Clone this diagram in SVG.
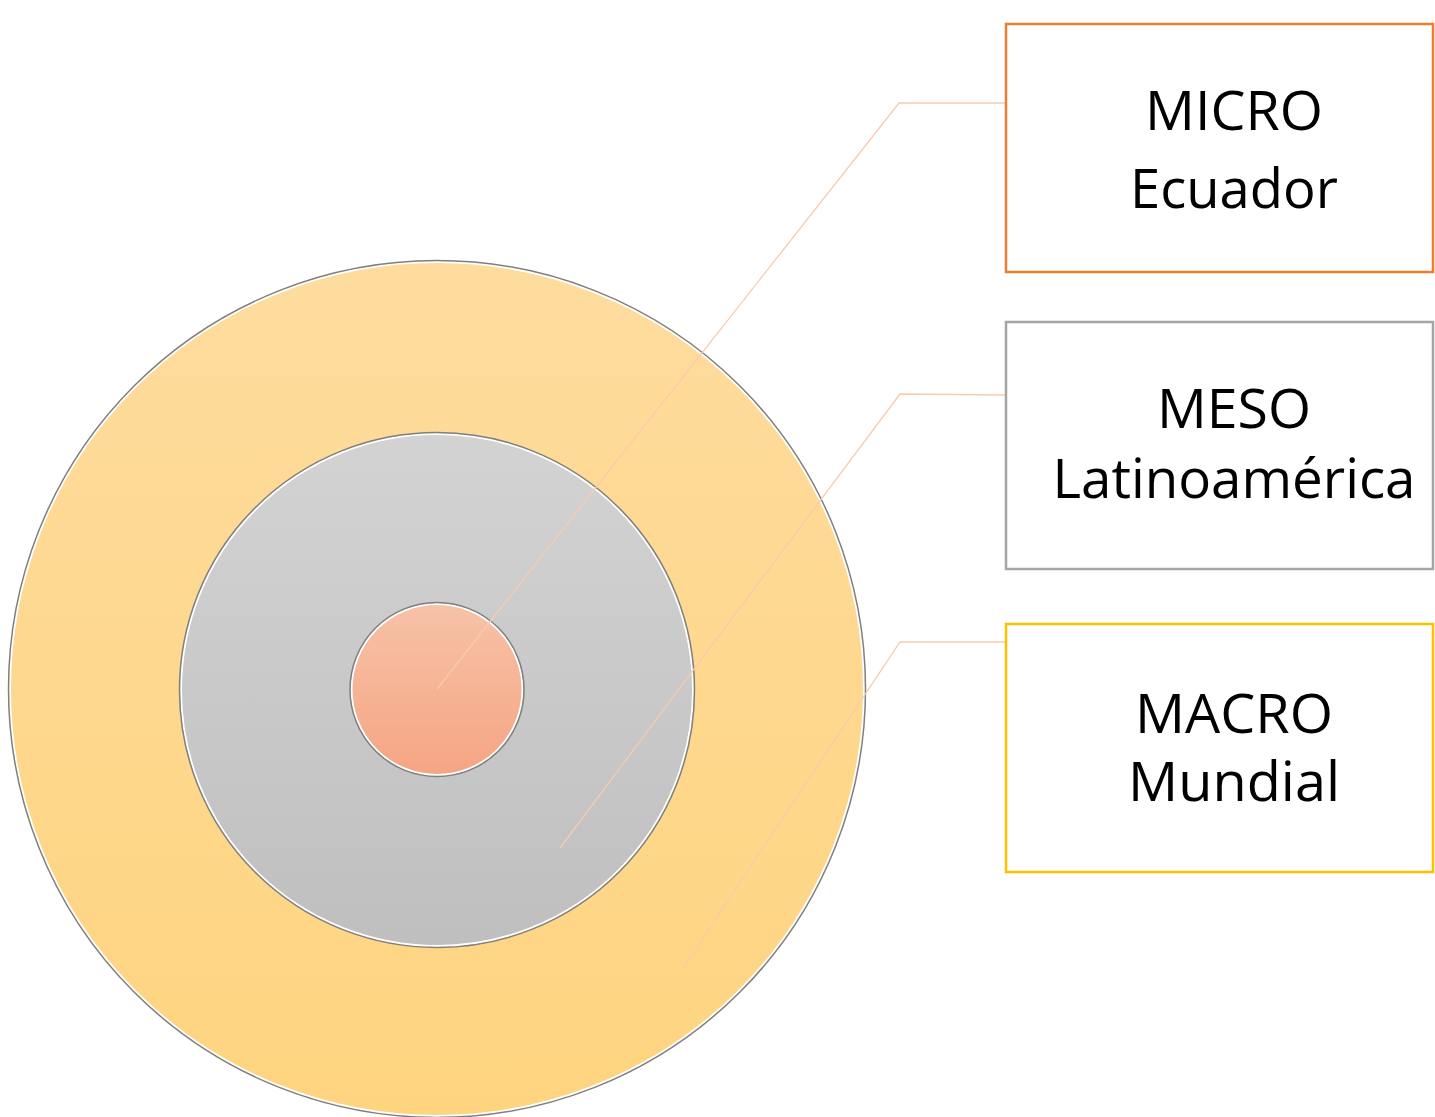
<svg xmlns="http://www.w3.org/2000/svg" width="1435" height="1117" viewBox="0 0 1435 1117">
<defs>
<linearGradient id="gOuter" x1="0" y1="0" x2="0" y2="1"><stop offset="0" stop-color="#fedc9e"/><stop offset="1" stop-color="#fed47f"/></linearGradient>
<linearGradient id="gMid" x1="0" y1="0" x2="0" y2="1"><stop offset="0" stop-color="#d3d3d3"/><stop offset="1" stop-color="#bfbfbf"/></linearGradient>
<linearGradient id="gInner" x1="0" y1="0" x2="0" y2="1"><stop offset="0" stop-color="#f7c2a7"/><stop offset="1" stop-color="#f5a583"/></linearGradient>
<style>
.ring{stroke:#ffffff;stroke-width:2}
.rim{fill:none;stroke:#7f7f7f;stroke-width:1.5}
.box{fill:#ffffff;stroke-width:2.5}
.conn{fill:none;stroke:#f8cbad;stroke-width:1.3}
.lbl{font-family:"Open Sans","Liberation Sans",sans-serif;font-size:55px;fill:#000000;text-anchor:middle}
</style>
</defs>
<rect width="1435" height="1117" fill="#ffffff"/>
<g id="macro-circle">
<circle cx="437" cy="689" r="427" fill="url(#gOuter)" class="ring"/>
<circle cx="437" cy="689" r="428.5" class="rim"/>
</g>
<g id="meso-circle">
<circle cx="437" cy="690" r="256" fill="url(#gMid)" class="ring"/>
<circle cx="437" cy="690" r="257.5" class="rim"/>
</g>
<g id="micro-circle">
<circle cx="437" cy="689.5" r="85.5" fill="url(#gInner)" class="ring"/>
<circle cx="437" cy="689.5" r="87" class="rim"/>
</g>
<g id="connectors">
<polyline class="conn" points="437,689 899,103 1005,103"/>
<polyline class="conn" points="560,848 900,394 1005,395"/>
<polyline class="conn" points="683,968 900,642 1005,642"/>
</g>
<g id="micro-box">
<rect class="box" x="1006" y="24" width="427" height="248" stroke="#ed7d31"/>
<text class="lbl" x="1234" y="130" textLength="178" lengthAdjust="spacingAndGlyphs">MICRO</text>
<text class="lbl" x="1234" y="208" textLength="208" lengthAdjust="spacingAndGlyphs">Ecuador</text>
</g>
<g id="meso-box">
<rect class="box" x="1006" y="322" width="427" height="247" stroke="#a5a5a5"/>
<text class="lbl" x="1234" y="428" textLength="154" lengthAdjust="spacingAndGlyphs">MESO</text>
<text class="lbl" x="1234" y="498" textLength="363" lengthAdjust="spacingAndGlyphs">Latinoamérica</text>
</g>
<g id="macro-box">
<rect class="box" x="1006" y="624" width="427" height="248" stroke="#ffc000"/>
<text class="lbl" x="1234" y="733" textLength="198" lengthAdjust="spacingAndGlyphs">MACRO</text>
<text class="lbl" x="1234" y="801" textLength="212" lengthAdjust="spacingAndGlyphs">Mundial</text>
</g>
</svg>
